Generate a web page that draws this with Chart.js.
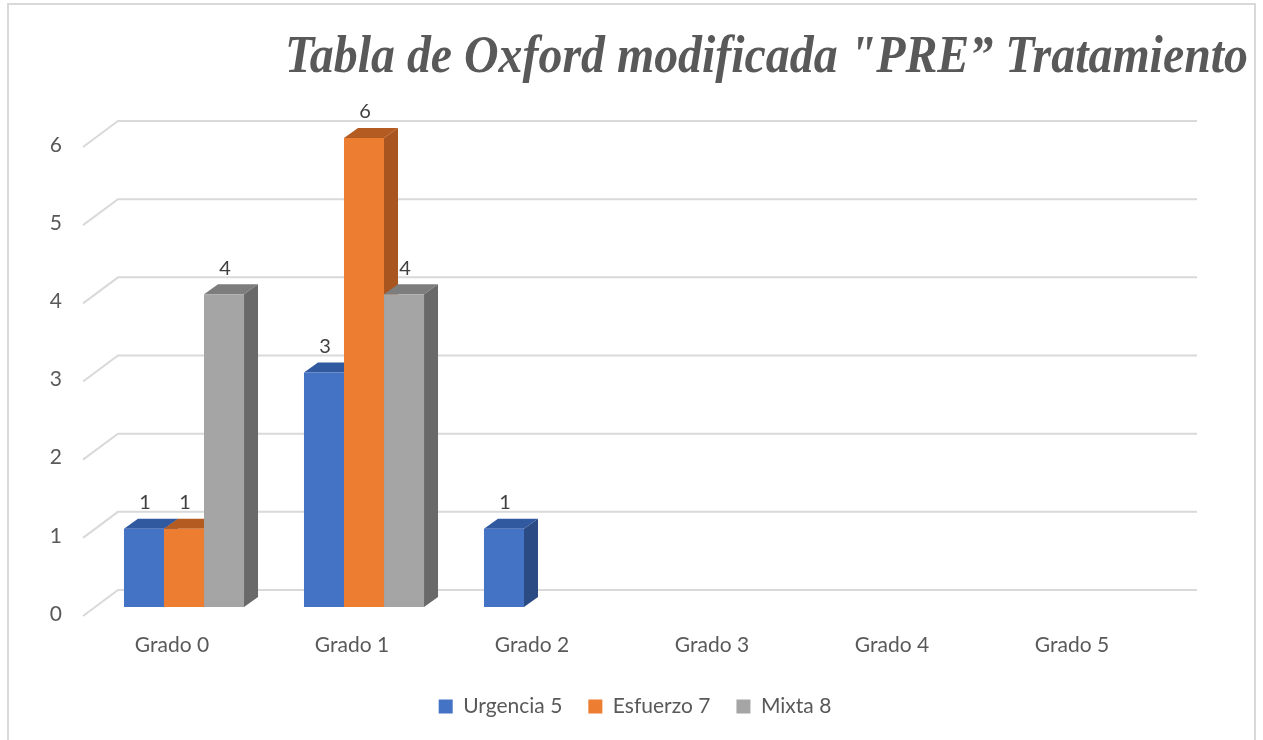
<!DOCTYPE html>
<html>
<head>
<meta charset="utf-8">
<script src="https://cdn.jsdelivr.net/npm/chart.js@4.4.1/dist/chart.umd.min.js"></script>
<style>
html, body { margin: 0; padding: 0; background: #fff; }
#wrap { position: relative; width: 1263px; height: 740px; overflow: hidden; }
#frame { position: absolute; left: 7px; top: 3px; width: 1249px; height: 780px; border: 2px solid #d9d9d9; box-sizing: border-box; pointer-events: none; }
</style>
</head>
<body>
<div id="wrap">
  <canvas id="chart" width="1263" height="740"></canvas>
  <div id="frame"></div>
</div>
<script>
// datos
const categories = ['Grado 0', 'Grado 1', 'Grado 2', 'Grado 3', 'Grado 4', 'Grado 5'];
const seriesNames = ['Urgencia 5', 'Esfuerzo 7', 'Mixta 8'];
const urgencia = [1, 3, 1, null, null, null];
const esfuerzo = [1, 6, null, null, null, null];
const mixta = [4, 4, null, null, null, null];
const yTicks = [0, 1, 2, 3, 4, 5, 6];
const chartTitle = 'Tabla de Oxford modificada "PRE\u201D Tratamiento';

const frontColors = ['#4472c4', '#ed7d31', '#a5a5a5'];
const topColors = ['#3159a0', '#b35b21', '#7d7d7d'];
const sideColors = ['#2b4b85', '#a95520', '#696969'];
const textColor = '#595959';
const baseFont = 'Lato, "Open Sans", sans-serif';

// profundidad del efecto 3D
const DX = 14, DY = 10, SHIFT = -7;

const bar3d = {
    id: 'bar3d',
    afterLayout(chart) {
        // la leyenda va centrada en todo el lienzo, no solo en el area util
        if (chart.legend) {
            chart.legend.left += 48;
            chart.legend.right += 48;
        }
    },
    beforeDraw(chart) {
        const ctx = chart.ctx;
        // titulo (serif condensado, negrita cursiva)
        ctx.save();
        ctx.font = 'italic bold 53px "Liberation Serif", serif';
        const w = ctx.measureText(chartTitle).width;
        const left = 285, right = 1248;
        ctx.translate((left + right) / 2, 72);
        ctx.scale((right - left) / w, 1);
        ctx.textAlign = 'center';
        ctx.textBaseline = 'alphabetic';
        ctx.fillStyle = textColor;
        ctx.fillText(chartTitle, 0, 0);
        ctx.restore();
    },
    beforeDatasetsDraw(chart) {
        // paredes: lineas de fondo + diagonales
        const ctx = chart.ctx;
        const y = chart.scales.y;
        const a = chart.chartArea;
        ctx.save();
        ctx.strokeStyle = '#d9d9d9';
        ctx.lineWidth = 2;
        yTicks.forEach(v => {
            const py = y.getPixelForValue(v);
            ctx.beginPath();
            ctx.moveTo(a.left - 11, py + 2);
            ctx.lineTo(a.left + 24, py - 24);
            ctx.lineTo(a.right + 23, py - 24);
            ctx.stroke();
        });
        ctx.restore();
    },
    beforeDatasetDraw() {
        return false; // se dibuja todo en afterDatasetsDraw, en orden
    },
    afterDatasetsDraw(chart) {
        const ctx = chart.ctx;
        ctx.save();
        ctx.translate(0, SHIFT);
        chart.data.datasets.forEach((ds, i) => {
            const meta = chart.getDatasetMeta(i);
            meta.data.forEach((bar, j) => {
                if (ds.data[j] == null) return;
                const { x, y, base, width } = bar.getProps(['x', 'y', 'base', 'width'], true);
                const l = x - width / 2, r = x + width / 2;
                ctx.fillStyle = topColors[i];
                ctx.beginPath();
                ctx.moveTo(l, y); ctx.lineTo(r, y); ctx.lineTo(r + DX, y - DY); ctx.lineTo(l + DX, y - DY);
                ctx.closePath(); ctx.fill();
                ctx.fillStyle = sideColors[i];
                ctx.beginPath();
                ctx.moveTo(r, y); ctx.lineTo(r + DX, y - DY); ctx.lineTo(r + DX, base - DY); ctx.lineTo(r, base);
                ctx.closePath(); ctx.fill();
                bar.draw(ctx);
            });
        });
        // etiquetas de valor
        ctx.font = '20px ' + baseFont;
        ctx.fillStyle = '#404040';
        ctx.textAlign = 'center';
        ctx.textBaseline = 'middle';
        chart.data.datasets.forEach((ds, i) => {
            chart.getDatasetMeta(i).data.forEach((bar, j) => {
                if (ds.data[j] == null) return;
                ctx.fillText(String(ds.data[j]), bar.x + 1, bar.y - 26);
            });
        });
        ctx.restore();
    }
};

const seriesData = [urgencia, esfuerzo, mixta];

new Chart(document.getElementById('chart'), {
    type: 'bar',
    data: {
        labels: categories,
        datasets: seriesNames.map((name, i) => ({
            label: name,
            data: seriesData[i],
            backgroundColor: frontColors[i],
            borderWidth: 0,
            categoryPercentage: 0.667,
            barPercentage: 1
        }))
    },
    options: {
        responsive: false,
        animation: false,
        layout: { padding: { left: 0, right: 89, top: 145, bottom: 13 } },
        scales: {
            x: {
                grid: { display: false, drawTicks: false },
                border: { display: false },
                ticks: { color: textColor, font: { family: baseFont, size: 21 }, padding: 19, labelOffset: -12 },
                afterFit(s) { s.height = 56; }
            },
            y: {
                min: 0,
                max: 6,
                grid: { display: false, drawTicks: false },
                border: { display: false },
                ticks: { stepSize: 1, color: textColor, font: { family: baseFont, size: 21 }, padding: 32 },
                afterFit(s) { s.width = 94; }
            }
        },
        plugins: {
            legend: {
                position: 'bottom',
                labels: { boxWidth: 14, boxHeight: 14, padding: 26, color: textColor, font: { family: baseFont, size: 21 } }
            },
            tooltip: { enabled: false }
        }
    },
    plugins: [bar3d]
});
</script>
</body>
</html>
